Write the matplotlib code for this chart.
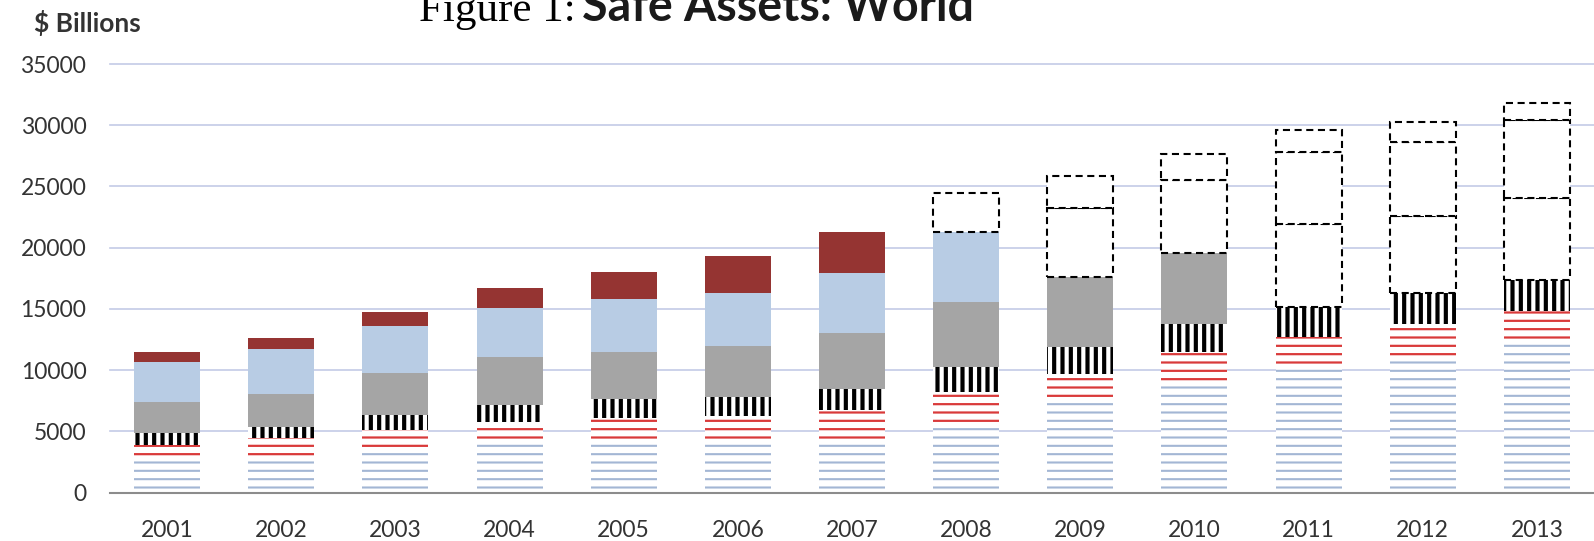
import matplotlib.pyplot as plt
import numpy as np

# $ billions per year, stacked from the bottom up
years = [2001, 2002, 2003, 2004, 2005, 2006, 2007, 2008, 2009, 2010, 2011, 2012, 2013]
blue_lines = [2900, 2900, 3570, 4250, 4250, 4250, 4250, 5530, 7490, 8790, 10100, 10750, 12100]
red_lines = [990, 1590, 1550, 1550, 1820, 2010, 2500, 2670, 2180, 2720, 2640, 3000, 2740]
black_stripes = [960, 850, 1220, 1360, 1550, 1530, 1690, 2040, 2200, 2290, 2450, 2530, 2530]
gray_block = [2580, 2720, 3410, 3890, 3890, 4190, 4580, 5360, 5770, 5810, 6750, 6310, 6720]
lightblue_block = [3270, 3650, 3860, 4050, 4280, 4300, 4900, 5710, 5580, 5960, 5900, 6070, 6340]
darkred_block = [810, 950, 1170, 1640, 2250, 3070, 3400, 3140, 2640, 2090, 1770, 1580, 1410]

# first year each block is shown as a dashed (no longer safe) box
gray_lost_from = 2011
lightblue_lost_from = 2009
darkred_lost_from = 2008

plt.rcParams['font.family'] = ['Lato', 'DejaVu Sans']

fig = plt.figure(figsize=(15.94, 5.41), dpi=100)
ax = fig.add_axes([0.069, 0.0893, 0.931, 0.7924])

x = np.arange(len(years))
w = 0.578
bottom = np.zeros(len(years))


def hatched(vals, color, hatch, lw):
    global bottom
    # hatch width is picked up from rcParams when the bars are made
    with plt.rc_context({'hatch.linewidth': lw}):
        ax.bar(x, vals, w, bottom=bottom, facecolor='white', edgecolor=color,
               linewidth=0, hatch=hatch, zorder=2)
    bottom = bottom + np.array(vals)


def block(vals, color, lost_from):
    global bottom
    for xi, yr, v, b in zip(x, years, vals, bottom):
        if yr >= lost_from:
            ax.bar(xi, v, w, bottom=b, facecolor='white', edgecolor='black',
                   linewidth=1.5, linestyle=(0, (3.4, 2.2)), zorder=3)
        else:
            ax.bar(xi, v, w, bottom=b, color=color, linewidth=0, zorder=2)
    bottom = bottom + np.array(vals)


hatched(blue_lines, '#A3B6D4', '--', 1.5)
hatched(red_lines, '#D93A3A', '--', 1.6)
hatched(black_stripes, 'black', '||', 3.0)
block(gray_block, '#A5A5A5', gray_lost_from)
block(lightblue_block, '#B8CCE4', lightblue_lost_from)
block(darkred_block, '#953432', darkred_lost_from)

ax.set_xlim(-0.5, 12.5)
ax.set_ylim(0, 35000)
ax.set_yticks(range(0, 35001, 5000))
ax.set_xticks(x, years)
ax.tick_params(axis='y', length=0, labelsize=16.5, pad=17, labelcolor='#333333')
ax.tick_params(axis='x', length=0, labelsize=16.5, pad=20, labelcolor='#333333')
ax.yaxis.grid(True, color='#C3CBE6', linewidth=1.2)
for gl in ax.get_ygridlines():
    gl.set_clip_on(False)
ax.set_axisbelow(True)
for s in ['top', 'right', 'left']:
    ax.spines[s].set_visible(False)
ax.spines['bottom'].set_color('#8C8C8C')
ax.spines['bottom'].set_linewidth(1.5)
ax.spines['bottom'].set_zorder(4)

fig.text(34 / 1594, 1 - 32 / 541, '$ Billions', fontsize=19, fontweight='bold',
         color='#333333', va='baseline')
fig.text(576 / 1594, 1 - 21 / 541, 'Figure 1:', family='Liberation Serif',
         fontsize=31, ha='right', va='baseline')
fig.text(582 / 1594, 1 - 21 / 541, 'Safe Assets: World', fontsize=33.5,
         fontweight='bold', color='#1a1a1a', ha='left', va='baseline')

fig.savefig('out.png', dpi=100)
